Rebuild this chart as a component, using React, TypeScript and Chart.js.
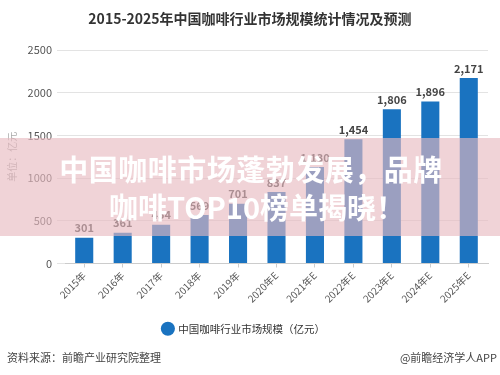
import React, { useEffect, useRef } from "react";
import { Chart, registerables } from "chart.js";

Chart.register(...registerables);

const categories = ["2015年", "2016年", "2017年", "2018年", "2019年", "2020年E", "2021年E", "2022年E", "2023年E", "2024年E", "2025年E"];
const marketSize = [301, 361, 454, 569, 701, 837, 1130, 1454, 1806, 1896, 2171];
const yTicks = [0, 500, 1000, 1500, 2000, 2500];
const seriesName = "中国咖啡行业市场规模（亿元）";
const titleText = "2015-2025年中国咖啡行业市场规模统计情况及预测";
const bannerLines = ["中国咖啡市场蓬勃发展，品牌", "咖啡TOP10榜单揭晓！"];
const sourceText = "资料来源：前瞻产业研究院整理";
const creditText = "@前瞻经济学人APP";

const FONT = "'Noto Sans CJK SC', 'Noto Sans', sans-serif";
const BLUE = "#1a73c0";

const valueLabels = {
  id: "valueLabels",
  afterDatasetsDraw(chart: any) {
    const ctx = chart.ctx;
    const meta = chart.getDatasetMeta(0);
    ctx.save();
    ctx.font = `bold 11px ${FONT}`;
    ctx.fillStyle = "#444";
    ctx.textAlign = "center";
    ctx.textBaseline = "bottom";
    meta.data.forEach((bar: any, i: number) => {
      const v = chart.data.datasets[0].data[i] as number;
      ctx.fillText(v.toLocaleString("en-US"), bar.x, bar.y - 4);
    });
    ctx.restore();
  },
};

export default function App() {
  const ref = useRef<HTMLCanvasElement>(null);
  useEffect(() => {
    if (!ref.current) return;
    const chart = new Chart(ref.current, {
      type: "bar",
      data: {
        labels: categories,
        datasets: [
          {
            label: seriesName,
            data: marketSize,
            backgroundColor: BLUE,
            borderWidth: 0,
            barPercentage: 0.94,
            categoryPercentage: 0.5,
          },
        ],
      },
      plugins: [valueLabels],
      options: {
        responsive: false,
        animation: false,
        devicePixelRatio: 1,
        layout: { padding: { left: 0, right: 12, top: 50, bottom: 31 } },
        plugins: {
          title: { display: false },
          legend: {
            position: "bottom",
            labels: {
              usePointStyle: true,
              pointStyle: "circle",
              boxWidth: 10,
              boxHeight: 10,
              padding: 10,
              color: "#333",
              font: { family: FONT, size: 10.5 },
            },
          },
          tooltip: { enabled: false },
        },
        scales: {
          x: {
            grid: { display: true, drawOnChartArea: false, drawTicks: true, tickLength: 4, offset: false, color: "#ccc" },
            border: { display: true, color: "#ccc" },
            ticks: {
              color: "#555",
              font: { family: FONT, size: 10 },
              minRotation: 45,
              maxRotation: 45,
              padding: 2,
            },
            afterFit: (s: any) => {
              s.height = 50;
            },
          },
          y: {
            min: 0,
            max: 2500,
            afterBuildTicks: (s: any) => {
              s.ticks = yTicks.map((v) => ({ value: v }));
            },
            grid: { color: "#e3e3e3", tickLength: 8, drawTicks: true },
            border: { display: false },
            ticks: {
              color: "#555",
              font: { family: FONT, size: 11 },
              padding: 5,
              callback: (v: any) => String(v),
            },
            title: {
              display: true,
              text: "单位：亿元",
              color: "#aaa",
              font: { family: FONT, size: 10 },
              padding: { top: 6, bottom: 0 },
            },
            afterFit: (s: any) => {
              s.width = 65;
            },
          },
        },
      },
    });
    return () => chart.destroy();
  }, []);

  return (
    <div style={{ position: "fixed", left: 0, top: 0, width: 500, height: 375, background: "#fff", overflow: "hidden", fontFamily: FONT }}>
      <canvas ref={ref} width={500} height={375} style={{ display: "block", width: 500, height: 375 }} />
      <div
        style={{
          position: "absolute",
          left: 0,
          top: 8,
          width: 500,
          textAlign: "center",
          fontSize: 14,
          fontWeight: "bold",
          color: "#333",
          lineHeight: "20px",
        }}
      >
        {titleText}
      </div>
      <div
        style={{
          position: "absolute",
          left: 0,
          top: 138,
          width: 500,
          height: 98,
          background: "rgba(231,185,192,0.63)",
          display: "flex",
          flexDirection: "column",
          alignItems: "center",
          justifyContent: "center",
          color: "#fff",
          fontWeight: "bold",
          fontSize: 29,
          lineHeight: "38px",
        }}
      >
        <div style={{ paddingLeft: 2, letterSpacing: 0.5 }}>{bannerLines[0]}</div>
        <div style={{ paddingLeft: 14 }}>{bannerLines[1]}</div>
      </div>
      <div style={{ position: "absolute", left: 7, top: 349, fontSize: 11, color: "#444", lineHeight: "16px" }}>{sourceText}</div>
      <div style={{ position: "absolute", right: 3, top: 349, fontSize: 11, color: "#444", lineHeight: "16px" }}>{creditText}</div>
    </div>
  );
}
